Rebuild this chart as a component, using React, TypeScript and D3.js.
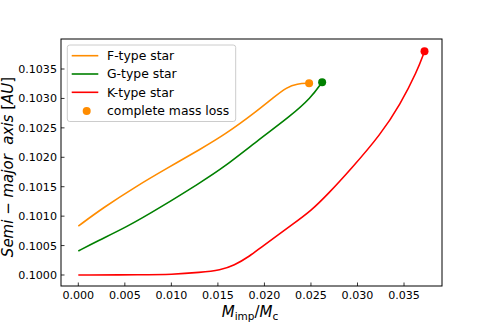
import * as React from "react";
import * as d3 from "d3";

// values
const fX = [0, 0.0027, 0.0063, 0.0095, 0.0131, 0.0158, 0.0192, 0.021, 0.0224, 0.0235, 0.0248];
const fY = [0.100831, 0.101146, 0.101514, 0.10181, 0.102136, 0.10239, 0.102785, 0.10302, 0.10319, 0.10325, 0.103259];

const gX = [0, 0.002, 0.0052, 0.0088, 0.0131, 0.0156, 0.0192, 0.0228, 0.025, 0.0262];
const gY = [0.100407, 0.100575, 0.100815, 0.101146, 0.101569, 0.101824, 0.102276, 0.1027, 0.10301, 0.103276];

const kX = [0, 0.007, 0.01, 0.0131, 0.0153, 0.0167, 0.0185, 0.0196, 0.0232, 0.025, 0.0268, 0.0293, 0.0325, 0.0346, 0.0364, 0.0372];
const kY = [0.1, 0.100004, 0.100008, 0.100044, 0.100085, 0.100158, 0.100327, 0.100468, 0.10088, 0.10109, 0.10137, 0.1018, 0.10239, 0.1029, 0.10346, 0.1038];

const xTicks = [0, 0.005, 0.01, 0.015, 0.02, 0.025, 0.03, 0.035];
const yTicks = [0.1, 0.1005, 0.101, 0.1015, 0.102, 0.1025, 0.103, 0.1035];

const seriesNames = ["F-type star", "G-type star", "K-type star"];
const seriesColors = ["#ff8c00", "#008000", "#ff0000"];

const W = 491;
const H = 327;
const left = 61;
const right = 442;
const top = 39;
const bottom = 286;

const App = () => {
  const x = d3.scaleLinear().domain([-0.00186, 0.03908]).range([left, right]);
  const y = d3.scaleLinear().domain([0.099813, 0.10401]).range([bottom, top]);

  const line = d3
    .line<[number, number]>()
    .x((d) => x(d[0]))
    .y((d) => y(d[1]))
    .curve(d3.curveBasis);

  const series = [
    [fX, fY],
    [gX, gY],
    [kX, kY],
  ].map(([xs, ys]) => xs.map((v, i) => [v, ys[i]] as [number, number]));

  const font = "DejaVu Sans, sans-serif";

  return (
    <svg width={W} height={H} style={{ position: "absolute", left: 0, top: 0 }} fontFamily={font}>
      <rect x={0} y={0} width={W} height={H} fill="#fff" />
      {series.map((pts, i) => (
        <path key={i} d={line(pts) || ""} fill="none" stroke={seriesColors[i]} strokeWidth={1.6} />
      ))}
      {series.map((pts, i) => {
        const last = pts[pts.length - 1];
        return <circle key={"d" + i} cx={x(last[0])} cy={y(last[1])} r={4} fill={seriesColors[i]} />;
      })}

      {/* axes frame */}
      <rect x={left} y={top} width={right - left} height={bottom - top} fill="none" stroke="#000" strokeWidth={1} />

      {xTicks.map((t) => (
        <g key={"x" + t}>
          <line x1={x(t)} x2={x(t)} y1={bottom} y2={bottom - 3.5} stroke="#000" strokeWidth={0.8} />
          <text x={x(t)} y={298.5} fontSize={11.1} textAnchor="middle">
            {t.toFixed(3)}
          </text>
        </g>
      ))}
      {yTicks.map((t) => (
        <g key={"y" + t}>
          <line x1={left} x2={left + 3.5} y1={y(t)} y2={y(t)} stroke="#000" strokeWidth={0.8} />
          <text x={57} y={y(t) + 4} fontSize={11.1} textAnchor="end">
            {t.toFixed(4)}
          </text>
        </g>
      ))}

      {/* x label */}
      <text x={250} y={316.5} fontSize={15} textAnchor="middle">
        <tspan fontStyle="italic">M</tspan>
        <tspan fontSize={10.5} dy={3}>imp</tspan>
        <tspan dy={-3}>/</tspan>
        <tspan fontStyle="italic">M</tspan>
        <tspan fontSize={10.5} dy={3}>c</tspan>
      </text>

      {/* y label */}
      <text
        transform="translate(13,167) rotate(-90)"
        fontSize={15}
        textAnchor="middle"
        fontStyle="italic"
        style={{ whiteSpace: "pre" }}
      >
        {"Semi − major  axis "}
        <tspan fontStyle="normal">[</tspan>AU<tspan fontStyle="normal">]</tspan>
      </text>

      {/* legend */}
      <rect x={67.3} y={45} width={168.4} height={76.5} rx={2.5} fill="#fff" fillOpacity={0.8} stroke="#ccc" strokeWidth={1} />
      {seriesNames.map((name, i) => {
        const ly = 55.7 + i * 18.3;
        return (
          <g key={name}>
            <line x1={71.7} x2={98.3} y1={ly} y2={ly} stroke={seriesColors[i]} strokeWidth={1.6} />
            <text x={107} y={ly + 4.4} fontSize={12.4}>
              {name}
            </text>
          </g>
        );
      })}
      <circle cx={86.7} cy={111} r={4} fill={seriesColors[0]} />
      <text x={107} y={115.4} fontSize={12.4}>
        complete mass loss
      </text>
    </svg>
  );
};

export default App;
